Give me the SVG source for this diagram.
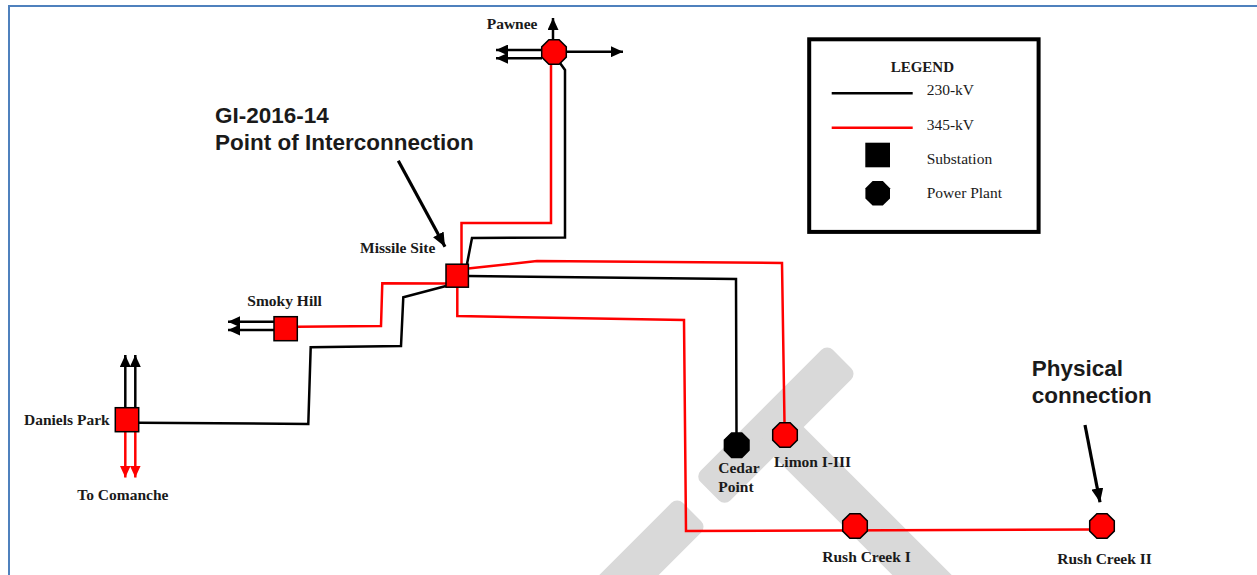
<svg xmlns="http://www.w3.org/2000/svg" width="1257" height="575" viewBox="0 0 1257 575">
<style>
.wm{fill:#d9d9d9}
.frame{fill:none;stroke:#4f81bd;stroke-width:2}
.k{fill:none;stroke:#000;stroke-width:2.5;stroke-linejoin:miter}
.r{fill:none;stroke:#ff0000;stroke-width:2.5;stroke-linejoin:miter}
.ka{fill:none;stroke:#000;stroke-width:2.5;marker-end:url(#ahK)}
.ra{fill:none;stroke:#ff0000;stroke-width:2.5;marker-end:url(#ahR)}
.ptr{fill:none;stroke:#000;stroke-width:3.2;marker-end:url(#ahP)}
.sub{fill:#ff0000;stroke:#000;stroke-width:1.5}
.pp{fill:#ff0000;stroke:#000;stroke-width:1.5}
.ppk{fill:#000;stroke:#000;stroke-width:1.5}
.lbl{font-family:"Liberation Serif","Times New Roman",serif;font-weight:bold;font-size:15.5px;fill:#1a1a1a}
.leg{font-family:"Liberation Serif","Times New Roman",serif;font-size:15.5px;fill:#1a1a1a}
.call{font-family:"Liberation Sans",Arial,sans-serif;font-weight:bold;font-size:22.5px;fill:#1a1a1a}
</style>
<defs>
<marker id="ahK" viewBox="0 0 12 11" refX="12" refY="5.5" markerWidth="12" markerHeight="11" markerUnits="userSpaceOnUse" orient="auto"><path d="M0,0 L12,5.5 L0,11 Z" fill="#000"/></marker>
<marker id="ahR" viewBox="0 0 12 11" refX="12" refY="5.5" markerWidth="12" markerHeight="11" markerUnits="userSpaceOnUse" orient="auto"><path d="M0,0 L12,5.5 L0,11 Z" fill="#ff0000"/></marker>
<marker id="ahP" viewBox="0 0 14 12" refX="14" refY="6" markerWidth="14" markerHeight="12" markerUnits="userSpaceOnUse" orient="auto"><path d="M0,0 L14,6 L0,12 Z" fill="#000"/></marker>
<path id="oct" d="M-5.1,-12.3 L5.1,-12.3 L12.3,-5.1 L12.3,5.1 L5.1,12.3 L-5.1,12.3 L-12.3,5.1 L-12.3,-5.1 Z"/>
</defs>

<g id="background">
<rect width="1257" height="575" fill="#ffffff"/>
<rect class="wm" x="0" y="-21" width="187" height="42" rx="8" transform="translate(842,359) rotate(135)"/>
<rect class="wm" x="0" y="-21" width="250" height="42" rx="0" transform="translate(774,427) rotate(45)"/>
<rect class="wm" x="0" y="-21" width="160" height="42" rx="8" transform="translate(692,512) rotate(135)"/>
<path class="frame" d="M9,575 L9,6 L1257,6"/>
</g>

<g id="connectors">
<!-- Pawnee to Missile Site -->
<path class="r" d="M551,64 L551,223 L461.5,223 L461.5,264"/>
<path class="k" d="M560,63 L565,70 L565,237.5 L472,238 L467,264"/>
<!-- Missile Site to Limon -->
<path class="r" d="M468,268.5 L537,261 L782,263 L784.5,423"/>
<!-- Missile Site to Cedar Point -->
<path class="k" d="M468,276 L736,279 L736.5,433"/>
<!-- Missile Site to Rush Creek -->
<path class="r" d="M457.3,287 L457.3,316 L684,320 L686,531 L1090,529.5"/>
<!-- Missile Site to Smoky Hill -->
<path class="r" d="M446,283.5 L382.3,283.3 L381,326 L297,326.7"/>
<!-- Missile Site to Daniels Park -->
<path class="k" d="M446,286 L403.3,297.3 L401,346 L310.7,347.3 L308.3,424 L139,422.7"/>
<!-- Pawnee outlets -->
<path class="ka" d="M553,40 L553,18"/>
<path class="ka" d="M542,50 L496,50"/>
<path class="ka" d="M542,58.3 L496,58.3"/>
<path class="ka" d="M566,51.7 L623,51.7"/>
<!-- Smoky Hill outlets -->
<path class="ka" d="M274,321.7 L228,321.7"/>
<path class="ka" d="M274,330 L228,330"/>
<!-- Daniels Park outlets -->
<path class="ka" d="M125.3,408 L125.3,355"/>
<path class="ka" d="M135.3,408 L135.3,355"/>
<path class="ra" d="M125.3,432 L125.3,477.5"/>
<path class="ra" d="M135.3,432 L135.3,477.5"/>
<!-- Callout arrows -->
<path class="ptr" d="M398.3,160.7 L445,246.7"/>
<path class="ptr" d="M1085,425 L1100,502.3"/>
</g>

<g id="pawnee">
<use href="#oct" class="pp" transform="translate(554,52)"/>
<text class="lbl" x="486.7" y="29.3">Pawnee</text>
</g>
<g id="missile-site">
<rect class="sub" x="446" y="264.2" width="22.4" height="23"/>
<text class="lbl" x="360" y="253.3">Missile Site</text>
</g>
<g id="smoky-hill">
<rect class="sub" x="274" y="316.7" width="23.3" height="24"/>
<text class="lbl" x="247.3" y="306">Smoky Hill</text>
</g>
<g id="daniels-park">
<rect class="sub" x="115.3" y="407.7" width="23.4" height="24"/>
<text class="lbl" x="24" y="425">Daniels Park</text>
<text class="lbl" x="77.3" y="500">To Comanche</text>
</g>
<g id="cedar-point">
<use href="#oct" class="ppk" transform="translate(736.7,445.2)"/>
<text class="lbl" x="718.3" y="472.7">Cedar</text>
<text class="lbl" x="718.3" y="491.7">Point</text>
</g>
<g id="limon">
<use href="#oct" class="pp" transform="translate(785,435)"/>
<text class="lbl" x="774" y="466.7">Limon I-III</text>
</g>
<g id="rush-creek-1">
<use href="#oct" class="pp" transform="translate(855,526)"/>
<text class="lbl" x="822.3" y="562.3">Rush Creek I</text>
</g>
<g id="rush-creek-2">
<use href="#oct" class="pp" transform="translate(1102,526)"/>
<text class="lbl" x="1057.3" y="564">Rush Creek II</text>
</g>
<g id="callout-poi">
<text class="call" x="215" y="123.3">GI-2016-14</text>
<text class="call" x="215" y="150">Point of Interconnection</text>
</g>
<g id="callout-physical">
<text class="call" x="1031.7" y="376">Physical</text>
<text class="call" x="1031.7" y="403.3">connection</text>
</g>
<g id="legend">
<rect x="809.2" y="39.3" width="229.4" height="192.6" fill="#ffffff" stroke="#000" stroke-width="4"/>
<text class="lbl" x="890.7" y="71.7" style="font-size:15px">LEGEND</text>
<line x1="831.7" y1="93.3" x2="912.7" y2="93.3" stroke="#000" stroke-width="2.5"/>
<text class="leg" x="926.7" y="95">230-kV</text>
<line x1="831.7" y1="127.7" x2="912.7" y2="127.7" stroke="#ff0000" stroke-width="2.5"/>
<text class="leg" x="926.7" y="130">345-kV</text>
<rect x="865.3" y="142.7" width="24.7" height="24.6" fill="#000"/>
<text class="leg" x="926.7" y="164.3">Substation</text>
<use href="#oct" fill="#000" transform="translate(877.7,193.3)"/>
<text class="leg" x="926.7" y="197.7">Power Plant</text>
</g>
</svg>
